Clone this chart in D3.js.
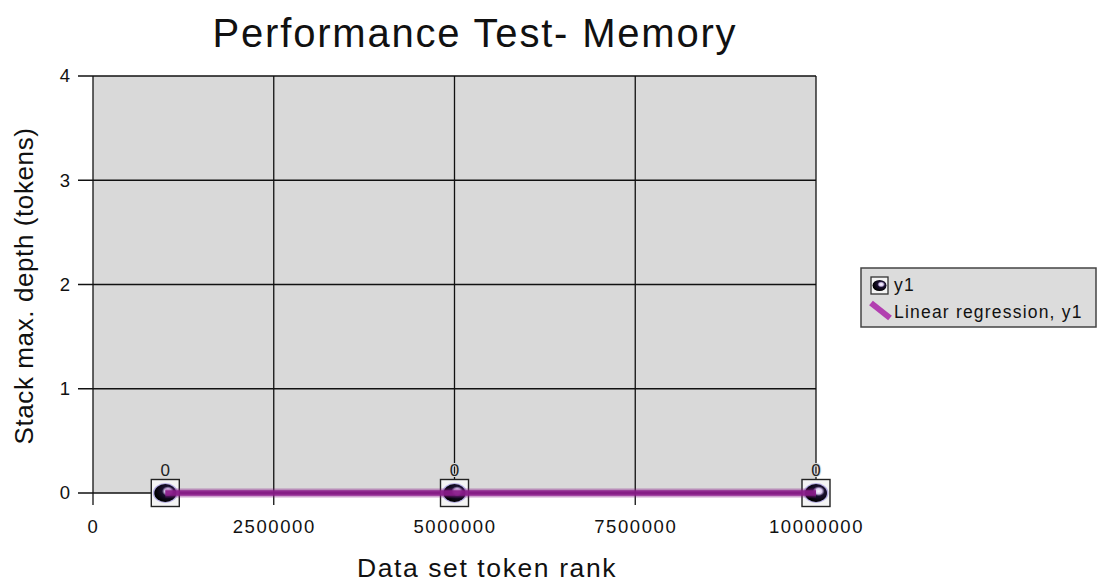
<!DOCTYPE html>
<html>
<head>
<meta charset="utf-8">
<script src="https://cdn.jsdelivr.net/npm/d3@7"></script>
<style>
  html, body { margin: 0; padding: 0; background: #fff; }
  svg { display: block; font-family: "Liberation Sans", Arial, sans-serif; }
</style>
</head>
<body>
<svg id="chart" width="1101" height="586"></svg>
<script>
// Measurements: data set token rank vs. maximum stack depth
const tokenRank = [1000000, 5000000, 10000000];
const stackDepth = [0, 0, 0];
const xTicks = [0, 2500000, 5000000, 7500000, 10000000];
const yTicks = [0, 1, 2, 3, 4];
const seriesNames = ["y1", "Linear regression, y1"];

const svg = d3.select("#chart");
const plot = { left: 93, right: 816, top: 76, bottom: 493 };

const x = d3.scaleLinear().domain([0, 10000000]).range([plot.left, plot.right]);
const y = d3.scaleLinear().domain([0, 4]).range([plot.bottom, plot.top]);

const purple = "#8a1c8a";

// Title
svg.append("text")
  .attr("x", 475).attr("y", 47)
  .attr("text-anchor", "middle")
  .attr("font-size", 40)
  .attr("letter-spacing", 1.8)
  .attr("fill", "#111")
  .text("Performance Test- Memory");

// Plot background
svg.append("rect")
  .attr("x", plot.left).attr("y", plot.top)
  .attr("width", plot.right - plot.left).attr("height", plot.bottom - plot.top)
  .attr("fill", "#d9d9d9");

// Grid lines
const grid = svg.append("g").attr("stroke", "#111").attr("stroke-width", 1.3);
grid.selectAll("line.h").data(yTicks).join("line")
  .attr("x1", plot.left - 15).attr("x2", plot.right)
  .attr("y1", d => y(d)).attr("y2", d => y(d));
grid.selectAll("line.v").data(xTicks).join("line")
  .attr("x1", d => x(d)).attr("x2", d => x(d))
  .attr("y1", plot.top).attr("y2", plot.bottom + 12);

// Tick labels via d3 axes (tick marks are the grid lines above)
const xAxis = svg.append("g")
  .attr("transform", `translate(0,${plot.bottom})`)
  .call(d3.axisBottom(x).tickValues(xTicks).tickFormat(d3.format("d")).tickSize(0).tickPadding(27));
xAxis.select(".domain").remove();
xAxis.selectAll("text").attr("font-size", 18.5).attr("letter-spacing", 1.6).attr("fill", "#111")
  .attr("font-family", "Liberation Sans, Arial, sans-serif");

const yAxis = svg.append("g")
  .attr("transform", `translate(${plot.left},0)`)
  .call(d3.axisLeft(y).tickValues(yTicks).tickFormat(d3.format("d")).tickSize(0).tickPadding(23));
yAxis.select(".domain").remove();
yAxis.selectAll("text").attr("font-size", 18.5).attr("fill", "#111")
  .attr("font-family", "Liberation Sans, Arial, sans-serif");

// Axis titles
svg.append("text")
  .attr("x", 487).attr("y", 577)
  .attr("text-anchor", "middle")
  .attr("font-size", 26.5)
  .attr("letter-spacing", 1.6)
  .attr("fill", "#111")
  .text("Data set token rank");

svg.append("text")
  .attr("transform", "translate(33,286) rotate(-90)")
  .attr("text-anchor", "middle")
  .attr("font-size", 26)
  .attr("letter-spacing", 0.6)
  .attr("fill", "#111")
  .text("Stack max. depth (tokens)");

// Marker definitions
const defs = svg.append("defs");
const grad = defs.append("radialGradient").attr("id", "ballGrad")
  .attr("cx", "0.62").attr("cy", "0.4").attr("r", "0.6");
grad.append("stop").attr("offset", "0").attr("stop-color", "#ffffff");
grad.append("stop").attr("offset", "0.25").attr("stop-color", "#d8c8f0");
grad.append("stop").attr("offset", "0.45").attr("stop-color", "#1a1030");
grad.append("stop").attr("offset", "1").attr("stop-color", "#000000");

const pts = tokenRank.map((t, i) => ({ x: t, y: stackDepth[i] }));

// Points: boxed ball markers
const markers = svg.append("g");
markers.selectAll("rect").data(pts).join("rect")
  .attr("x", d => x(d.x) - 14).attr("y", d => y(d.y) - 13.5)
  .attr("width", 28).attr("height", 27)
  .attr("fill", "#f4f4f4").attr("stroke", "#222").attr("stroke-width", 1.4);
markers.selectAll("ellipse.halo").data(pts).join("ellipse")
  .attr("class", "halo")
  .attr("cx", d => x(d.x)).attr("cy", d => y(d.y))
  .attr("rx", 12.5).attr("ry", 10)
  .attr("fill", "#6b5ad0").attr("opacity", 0.45);
markers.selectAll("ellipse.ball").data(pts).join("ellipse")
  .attr("class", "ball")
  .attr("cx", d => x(d.x)).attr("cy", d => y(d.y))
  .attr("rx", 11).attr("ry", 9)
  .attr("fill", "url(#ballGrad)");

// Linear regression fit of the series
const mx = d3.mean(pts, d => d.x), my = d3.mean(pts, d => d.y);
const sxx = d3.sum(pts, d => (d.x - mx) ** 2);
const sxy = d3.sum(pts, d => (d.x - mx) * (d.y - my));
const slope = sxx ? sxy / sxx : 0;
const intercept = my - slope * mx;
const xExt = d3.extent(tokenRank);
const fit = xExt.map(v => ({ x: v, y: intercept + slope * v }));
const line = d3.line().x(d => x(d.x)).y(d => y(d.y));

svg.append("path").datum(fit).attr("d", line)
  .attr("fill", "none").attr("stroke", purple).attr("stroke-width", 9).attr("opacity", 0.4);
svg.append("path").datum(fit).attr("d", line)
  .attr("fill", "none").attr("stroke", purple).attr("stroke-width", 5.5).attr("opacity", 0.9);

// Value labels
svg.append("g").selectAll("text").data(pts).join("text")
  .attr("x", d => x(d.x)).attr("y", d => y(d.y) - 17)
  .attr("text-anchor", "middle")
  .attr("font-size", 17)
  .attr("fill", "#222")
  .attr("paint-order", "stroke").attr("stroke", "#d9d9d9").attr("stroke-width", 2)
  .text(d => d3.format("d")(d.y));

// Legend
const lg = svg.append("g").attr("transform", "translate(861,268)");
lg.append("rect").attr("width", 235).attr("height", 59)
  .attr("fill", "#dcdcdc").attr("stroke", "#444").attr("stroke-width", 1.5);
lg.append("rect").attr("x", 10).attr("y", 9).attr("width", 17).attr("height", 17)
  .attr("fill", "#f4f4f4").attr("stroke", "#333").attr("stroke-width", 1.3);
lg.append("ellipse").attr("cx", 18.5).attr("cy", 17.5).attr("rx", 7).attr("ry", 5.5)
  .attr("fill", "url(#ballGrad)");
lg.append("line").attr("x1", 10).attr("y1", 35).attr("x2", 29).attr("y2", 50)
  .attr("stroke", "#b23fb0").attr("stroke-width", 6);
lg.selectAll("text").data(seriesNames).join("text")
  .attr("x", 33).attr("y", (d, i) => 23 + i * 27)
  .attr("font-size", 17.5)
  .attr("letter-spacing", 1.2)
  .attr("fill", "#111")
  .text(d => d);
</script>
</body>
</html>
